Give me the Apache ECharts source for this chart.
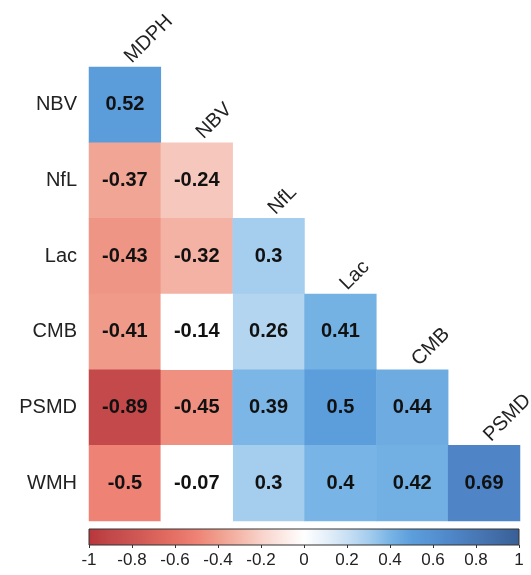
<!DOCTYPE html>
<html>
<head>
<meta charset="utf-8">
<script src="https://cdn.jsdelivr.net/npm/echarts@6/dist/echarts.min.js"></script>
<style>html,body{margin:0;padding:0;background:#fff}#c{width:531px;height:575px}</style>
</head>
<body>
<div id="c"></div>
<script>
// ---- data ----
const rowLabels = ['NBV', 'NfL', 'Lac', 'CMB', 'PSMD', 'WMH'];
const colLabels = ['MDPH', 'NBV', 'NfL', 'Lac', 'CMB', 'PSMD'];
const corrNBV  = [0.52];
const corrNfL  = [-0.37, -0.24];
const corrLac  = [-0.43, -0.32, 0.3];
const corrCMB  = [-0.41, -0.14, 0.26, 0.41];
const corrPSMD = [-0.89, -0.45, 0.39, 0.5, 0.44];
const corrWMH  = [-0.5, -0.07, 0.3, 0.4, 0.42, 0.69];
const unfilledCells = [[1, 3], [1, 5]]; // [col,row] shown without fill
const colorbarRange = [-1, 1];
const colorbarStep = 0.2;
// palette from -1 to 1 in steps of 0.1
const paletteColors = ['#B8363B', '#C24849', '#CC5452', '#D9625A', '#E57064', '#EE8275',
  '#F09D8C', '#F4B7A9', '#F8D2C9', '#FCE9E4', '#FFFFFF', '#E6F0FA', '#C8E0F4', '#A5CDEE',
  '#78B4E5', '#5C9EDC', '#5592D2', '#4E84C5', '#4878B5', '#416CA6', '#385E95'];

// ---- build ----
const rows = [corrNBV, corrNfL, corrLac, corrCMB, corrPSMD, corrWMH];
const isUnfilled = (c, r) => unfilledCells.some(u => u[0] === c && u[1] === r);
const filled = [], blank = [];
rows.forEach((vals, r) => vals.forEach((v, c) => {
  (isUnfilled(c, r) ? blank : filled).push([c, r, v]);
}));
const FONT = '"Liberation Sans", Arial, Helvetica, sans-serif';
const valueLabel = {
  show: true, formatter: p => String(p.value[2]),
  fontFamily: FONT, fontSize: 20, fontWeight: 'bold', color: '#111'
};

const chart = echarts.init(document.getElementById('c'), null, {renderer: 'canvas'});
chart.setOption({
  animation: false,
  backgroundColor: '#fff',
  grid: [
    {left: 89, top: 67, right: 11, bottom: 54},
    {left: 89, right: 12, top: 529, height: 16}
  ],
  xAxis: [
    {type: 'category', data: colLabels, gridIndex: 0, show: false},
    {type: 'value', gridIndex: 1, min: colorbarRange[0], max: colorbarRange[1], interval: colorbarStep,
     axisLine: {show: false}, splitLine: {show: false},
     axisTick: {show: true, length: 3, lineStyle: {color: '#333'}},
     axisLabel: {fontFamily: FONT, fontSize: 17, color: '#222', margin: 7}}
  ],
  yAxis: [
    {type: 'category', data: rowLabels, gridIndex: 0, inverse: true,
     axisLine: {show: false}, axisTick: {show: false}, splitLine: {show: false},
     axisLabel: {fontFamily: FONT, fontSize: 20, color: '#222', margin: 12}},
    {type: 'value', gridIndex: 1, min: 0, max: 1, show: false}
  ],
  visualMap: {
    show: false, type: 'continuous', min: colorbarRange[0], max: colorbarRange[1],
    seriesIndex: 0, dimension: 2, inRange: {color: paletteColors}
  },
  series: [
    {type: 'heatmap', xAxisIndex: 0, yAxisIndex: 0, data: filled, label: valueLabel,
     emphasis: {disabled: true}},
    {type: 'heatmap', xAxisIndex: 0, yAxisIndex: 0, data: blank, label: valueLabel,
     itemStyle: {color: '#ffffff'}, emphasis: {disabled: true}},
    {type: 'custom', xAxisIndex: 0, yAxisIndex: 0,
     data: colLabels.map((c, i) => [i, i]),
     renderItem: (params, api) => {
       const p = api.coord([api.value(0), api.value(1)]);
       const h = api.size([1, 1])[1];
       return {type: 'text', x: p[0] + 10, y: p[1] - h / 2, rotation: Math.PI / 4,
         style: {text: colLabels[params.dataIndex], fill: '#222', font: '20px ' + FONT,
                 align: 'left', verticalAlign: 'bottom'}};
     }},
    {type: 'custom', xAxisIndex: 1, yAxisIndex: 1,
     data: [[colorbarRange[0], colorbarRange[1]]],
     renderItem: (params, api) => {
       const p0 = api.coord([api.value(0), 1]);
       const p1 = api.coord([api.value(1), 0]);
       const stops = paletteColors.map((c, i) => ({offset: i / (paletteColors.length - 1), color: c}));
       return {type: 'rect', shape: {x: p0[0], y: p0[1], width: p1[0] - p0[0], height: p1[1] - p0[1]},
         style: {fill: new echarts.graphic.LinearGradient(0, 0, 1, 0, stops), stroke: '#333', lineWidth: 1}};
     }}
  ]
});
</script>
</body>
</html>
